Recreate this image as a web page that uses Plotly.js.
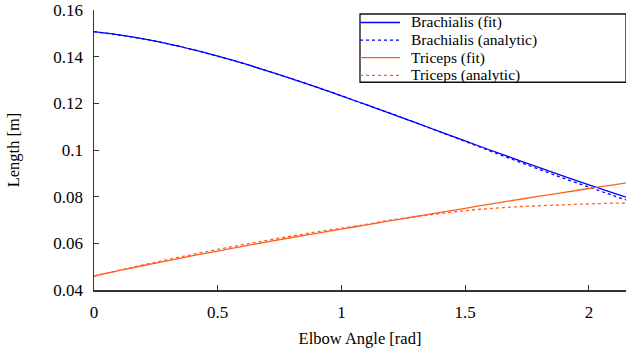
<!DOCTYPE html>
<html>
<head>
<meta charset="utf-8">
<script src="https://cdn.plot.ly/plotly-3.0.1.min.js"></script>
<style>html,body{margin:0;padding:0;background:#fff;}#chart{width:626px;height:354px;}</style>
</head>
<body>
<div id="chart"></div>
<script>
var angle = [0, 0.1, 0.2, 0.3, 0.4, 0.5, 0.6, 0.7, 0.8, 0.9, 1.0, 1.1, 1.2, 1.3, 1.4, 1.5, 1.6, 1.7, 1.8, 1.9, 2.0, 2.1, 2.15];
var brachialisFit = [0.1507, 0.1493, 0.1476, 0.1455, 0.1430, 0.1402, 0.1372, 0.1339, 0.1305, 0.1269, 0.1232, 0.1194, 0.1156, 0.1117, 0.1078, 0.1039, 0.1000, 0.0962, 0.0924, 0.0887, 0.0851, 0.0815, 0.0798];
var brachialisAnalytic = [0.1507, 0.1493, 0.1476, 0.1455, 0.1430, 0.1402, 0.1372, 0.1339, 0.1305, 0.1269, 0.1232, 0.1194, 0.1156, 0.1117, 0.1077, 0.1037, 0.0996, 0.0956, 0.0917, 0.0878, 0.0841, 0.0804, 0.0786];
var tricepsFit = [0.0460, 0.0483, 0.0505, 0.0526, 0.0547, 0.0567, 0.0587, 0.0606, 0.0625, 0.0643, 0.0661, 0.0679, 0.0697, 0.0715, 0.0733, 0.0750, 0.0768, 0.0785, 0.0802, 0.0818, 0.0835, 0.0851, 0.0859];
var tricepsAnalytic = [0.0460, 0.0484, 0.0508, 0.0531, 0.0553, 0.0574, 0.0594, 0.0613, 0.0631, 0.0649, 0.0665, 0.0681, 0.0700, 0.0714, 0.0728, 0.0740, 0.0749, 0.0756, 0.0761, 0.0765, 0.0769, 0.0772, 0.0773];
var seriesNames = ["Brachialis (fit)", "Brachialis (analytic)", "Triceps (fit)", "Triceps (analytic)"];
var xTickVals = [0, 0.5, 1, 1.5, 2];
var xTickText = ["0", "0.5", "1", "1.5", "2"];
var yTickVals = [0.04, 0.06, 0.08, 0.1, 0.12, 0.14, 0.16];
var yTickText = ["0.04", "0.06", "0.08", "0.1", "0.12", "0.14", "0.16"];

var blue = "#0000ff";
var orange = "#ff5f22";
var font = "'Liberation Serif', 'Times New Roman', serif";
var fs = 17;
var legendFs = 15.5;

var seriesY = [brachialisFit, brachialisAnalytic, tricepsFit, tricepsAnalytic];
var seriesColor = [blue, blue, orange, orange];
var seriesDash = ["solid", "dot", "solid", "dot"];

var traces = seriesY.map(function (ys, i) {
  return {x: angle, y: ys, name: seriesNames[i], mode: "lines",
          line: {color: seriesColor[i], width: 1.3, dash: seriesDash[i], shape: "spline"}};
});

// legend box drawn with shapes + annotations (paper coordinates of the plot area)
var legendRowsY = [0.9554, 0.8925, 0.8296, 0.7668];
var shapes = [
  {type: "rect", xref: "paper", yref: "paper", x0: 0.5, x1: 1.0, y0: 0.742, y1: 0.9857,
   line: {color: "#111", width: 1.3}, fillcolor: "#fff", layer: "above"}
];
var annotations = [];
seriesNames.forEach(function (n, i) {
  shapes.push({type: "line", xref: "paper", yref: "paper", x0: 0.5, x1: 0.5752,
               y0: legendRowsY[i], y1: legendRowsY[i],
               line: {color: seriesColor[i], width: 1.3, dash: seriesDash[i]}});
  annotations.push({xref: "paper", yref: "paper", x: 0.5945, y: legendRowsY[i],
                    xanchor: "left", yanchor: "middle", showarrow: false, text: n,
                    borderpad: 0,
                    font: {family: font, size: legendFs, color: "#000"}});
});

var layout = {
  width: 626, height: 354,
  margin: {l: 94, r: 0, t: 10, b: 64},
  paper_bgcolor: "#fff", plot_bgcolor: "#fff",
  font: {family: font, size: fs, color: "#000"},
  showlegend: false,
  shapes: shapes,
  annotations: annotations,
  xaxis: {
    range: [0, 2.15], showgrid: false, zeroline: false,
    showline: true, linecolor: "#333", linewidth: 1.5,
    ticks: "inside", ticklen: 5, tickcolor: "#333",
    tickvals: xTickVals, ticktext: xTickText, ticklabelstandoff: 6,
    tickfont: {family: font, size: fs, color: "#000"},
    title: {text: "Elbow Angle [rad]", font: {family: font, size: 16.5, color: "#000"}, standoff: 11}
  },
  yaxis: {
    range: [0.04, 0.16], showgrid: false, zeroline: false,
    showline: true, linecolor: "#333", linewidth: 1.5,
    ticks: "inside", ticklen: 5, tickcolor: "#333",
    tickvals: yTickVals, ticktext: yTickText, ticklabelstandoff: 6,
    tickfont: {family: font, size: fs, color: "#000"},
    title: {text: "Length [m]", font: {family: font, size: 16.5, color: "#000"}, standoff: 29}
  }
};

Plotly.newPlot("chart", traces, layout, {displayModeBar: false, staticPlot: true});
</script>
</body>
</html>
